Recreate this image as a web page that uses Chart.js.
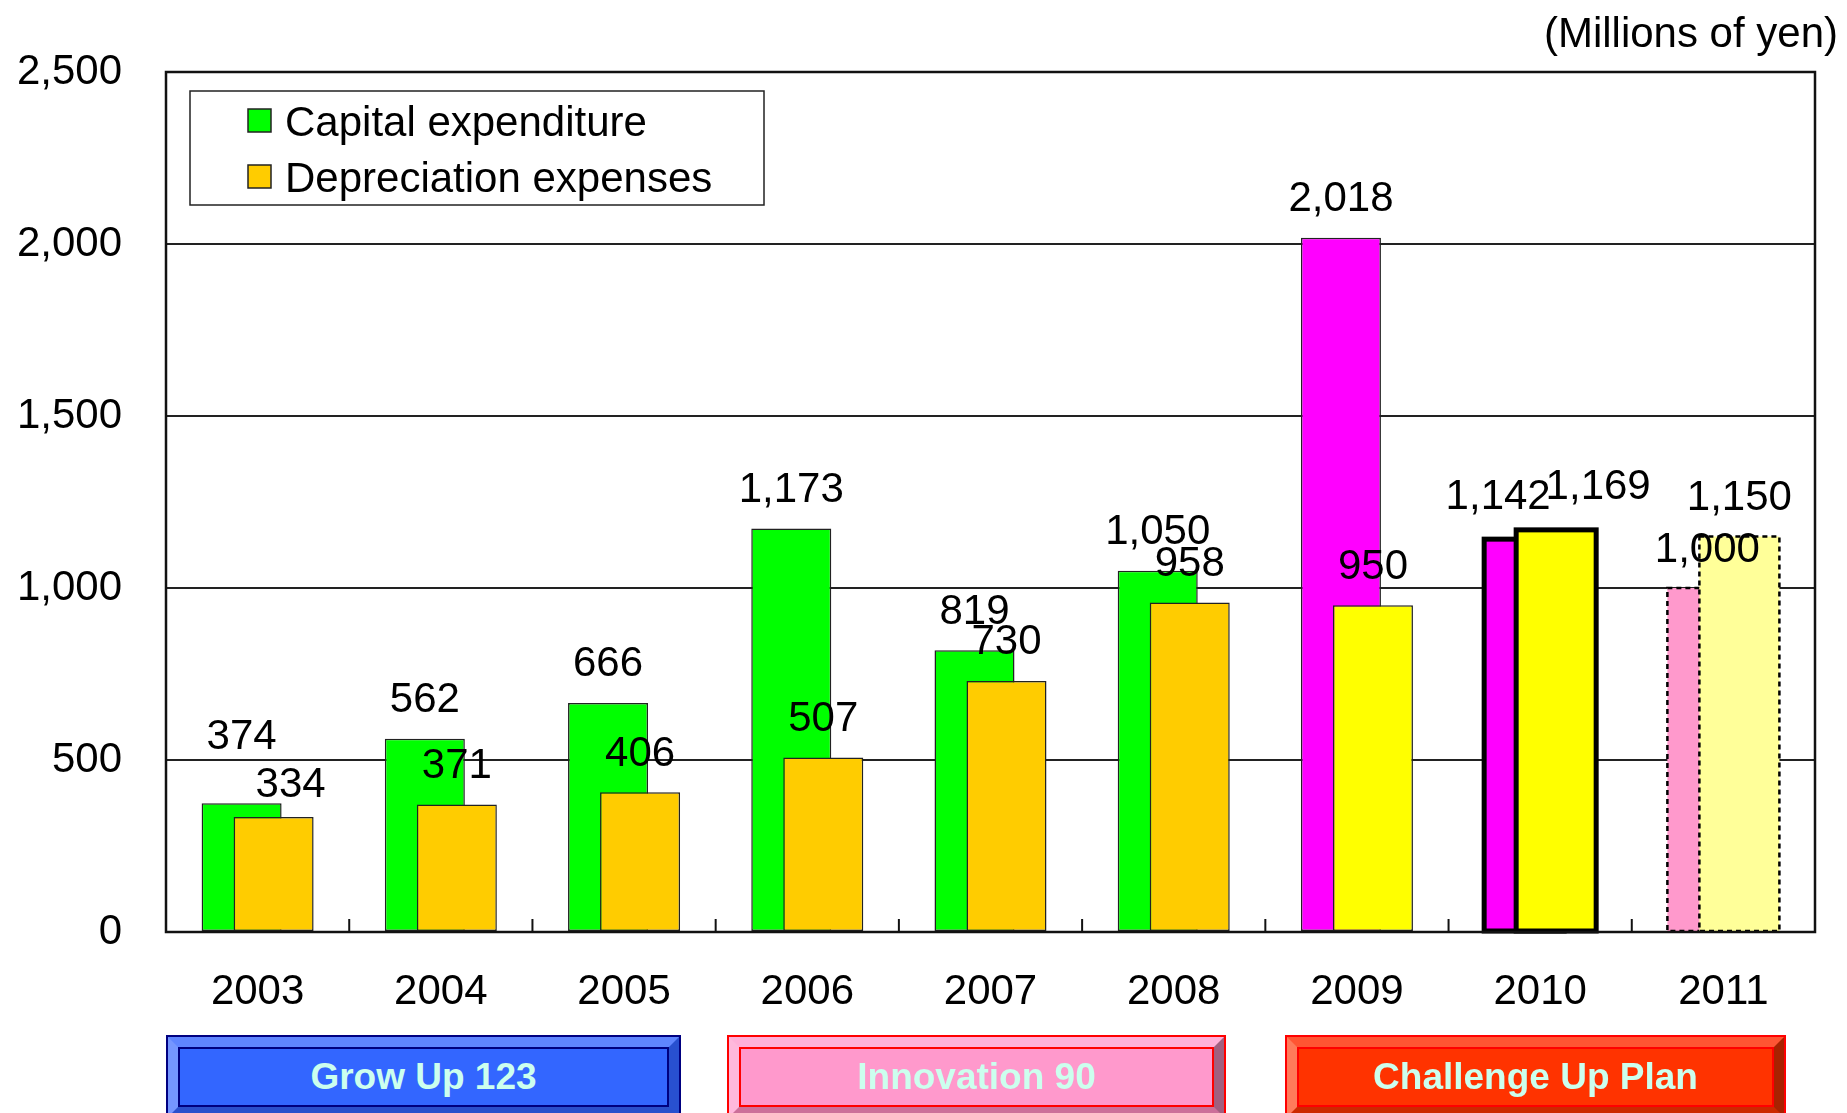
<!DOCTYPE html>
<html>
<head>
<meta charset="utf-8">
<script src="https://cdn.jsdelivr.net/npm/chart.js@4.4.0/dist/chart.umd.min.js"></script>
<style>
  html, body { margin: 0; padding: 0; background: #fff; overflow: hidden; }
  #wrap { position: relative; width: 1847px; height: 1113px; }
  .plan { position: absolute; top: 1035px; height: 84px; box-sizing: border-box; border: 2px solid; }
  .plan .bevel { box-sizing: border-box; height: 100%; border-style: solid; border-width: 10px; }
  .plan .face {
    box-sizing: border-box; height: 100%; border: 2px solid;
    display: flex; align-items: center; justify-content: center;
    font: bold 37px "Liberation Sans", Arial, sans-serif; color: #ccffee;
  }
</style>
</head>
<body>
<div id="wrap">
  <canvas id="myChart" width="1847" height="1113"></canvas>

  <div class="plan" style="left:166px;width:515px;border-color:#000080">
    <div class="bevel" style="border-color:#5f85ff #2850d0 #2a4fcc #7596ff">
      <div class="face" style="border-color:#000080;background:#3366ff">Grow Up 123</div>
    </div>
  </div>
  <div class="plan" style="left:727px;width:499px;border-color:#ff0000">
    <div class="bevel" style="border-color:#ffb0d8 #a0607f #cc7099 #ffb8dc">
      <div class="face" style="border-color:#ff0000;background:#ff99cc">Innovation 90</div>
    </div>
  </div>
  <div class="plan" style="left:1285px;width:501px;border-color:#ff0000">
    <div class="bevel" style="border-color:#ff5533 #a82200 #cc2900 #ff7a5a">
      <div class="face" style="border-color:#ff0000;background:#ff3300">Challenge Up Plan</div>
    </div>
  </div>
</div>

<script>
const years = ["2003", "2004", "2005", "2006", "2007", "2008", "2009", "2010", "2011"];
const capitalExpenditure = [374, 562, 666, 1173, 819, 1050, 2018, 1142, 1000];
const depreciationExpenses = [334, 371, 406, 507, 730, 958, 950, 1169, 1150];
const yTicks = [0, 500, 1000, 1500, 2000, 2500];
const unitLabel = "(Millions of yen)";

const FONT = '"Liberation Sans", Arial, sans-serif';

// hand-moved labels in the original, [dx, dy] per dataset
const labelNudge = {
  "2003": [[0, -28], [17, 6]],
  "2010": [[-26, -4], [42, -4]]
};

// 2003-2008 results, 2009 latest, 2010 estimate (thick border), 2011 plan (dashed)
const stage = (i) => (i < 6 ? "past" : i === 6 ? "latest" : i === 7 ? "estimate" : "plan");
const capFill = years.map((y, i) => ({ past: "#00ff00", latest: "#ff00ff", estimate: "#ff00ff", plan: "#ff99cc" })[stage(i)]);
const depFill = years.map((y, i) => ({ past: "#ffcc00", latest: "#ffff00", estimate: "#ffff00", plan: "#ffff99" })[stage(i)]);
const borderW = years.map((y, i) => (stage(i) === "past" || stage(i) === "latest" ? 1.5 : 0));

function fmt(v) {
  return v.toLocaleString("en-US");
}

// draw green first, orange on top; outline estimate / plan bars on their edges
const drawOrder = {
  id: "drawOrder",
  beforeDatasetsDraw(chart) {
    const ctx = chart.ctx;
    chart.getSortedVisibleDatasetMetas().forEach((meta) => {
      meta.controller.draw();
      meta.data.forEach((bar, i) => {
        const s = stage(i);
        if (s !== "plan" && s !== "estimate") return;
        const p = bar.getProps(["x", "y", "base", "width"], true);
        ctx.save();
        ctx.strokeStyle = "#000";
        if (s === "plan") {
          ctx.lineWidth = 2.5;
          ctx.setLineDash([5, 4]);
        } else {
          ctx.lineWidth = 5;
        }
        ctx.strokeRect(p.x - p.width / 2, p.y, p.width, p.base - p.y);
        ctx.restore();
      });
    });
    return false;
  }
};

const decorations = {
  id: "decorations",
  afterDraw(chart) {
    const ctx = chart.ctx;
    const a = chart.chartArea;
    const x = chart.scales.x;

    ctx.save();
    // plot frame
    ctx.strokeStyle = "#111";
    ctx.lineWidth = 2.5;
    ctx.strokeRect(a.left, a.top, a.right - a.left, a.bottom - a.top);

    // small inner tick marks between years
    ctx.lineWidth = 2;
    for (let i = 0; i < years.length - 1; i++) {
      const px = (x.getPixelForValue(i) + x.getPixelForValue(i + 1)) / 2;
      ctx.beginPath();
      ctx.moveTo(px, a.bottom);
      ctx.lineTo(px, a.bottom - 13);
      ctx.stroke();
    }

    // value labels
    ctx.fillStyle = "#000";
    ctx.font = "42px " + FONT;
    ctx.textAlign = "center";
    ctx.textBaseline = "middle";
    chart.data.datasets.forEach((ds, d) => {
      chart.getDatasetMeta(d).data.forEach((bar, i) => {
        const n = labelNudge[years[i]] ? labelNudge[years[i]][d] : [0, 0];
        ctx.fillText(fmt(ds.data[i]), bar.x + n[0], bar.y - 38 + n[1]);
      });
    });

    // unit label
    ctx.textAlign = "right";
    ctx.fillText(unitLabel, 1838, 35);

    // legend box
    ctx.fillStyle = "#fff";
    ctx.fillRect(190, 91, 574, 114);
    ctx.strokeStyle = "#222";
    ctx.lineWidth = 1.5;
    ctx.strokeRect(190, 91, 574, 114);
    ctx.textAlign = "left";
    chart.data.datasets.forEach((ds, d) => {
      const cy = 120 + d * 56;
      ctx.fillStyle = ds.legendColor;
      ctx.fillRect(248, cy - 11, 23, 23);
      ctx.strokeStyle = "#222";
      ctx.strokeRect(248, cy - 11, 23, 23);
      ctx.fillStyle = "#000";
      ctx.fillText(ds.label, 285, cy + 4);
    });
    ctx.restore();
  }
};

new Chart(document.getElementById("myChart").getContext("2d"), {
  type: "bar",
  data: {
    labels: years,
    datasets: [
      {
        label: "Capital expenditure",
        data: capitalExpenditure,
        backgroundColor: capFill,
        legendColor: "#00ff00",
        borderColor: "#222",
        borderWidth: borderW,
        borderSkipped: false
      },
      {
        label: "Depreciation expenses",
        data: depreciationExpenses,
        backgroundColor: depFill,
        legendColor: "#ffcc00",
        borderColor: "#222",
        borderWidth: borderW,
        borderSkipped: false
      }
    ]
  },
  options: {
    responsive: false,
    animation: false,
    devicePixelRatio: 1,
    layout: { padding: { top: 72, right: 32, left: 0, bottom: 0 } },
    datasets: { bar: { categoryPercentage: 64 / 183.2, barPercentage: 2.5 } },
    plugins: { legend: { display: false }, tooltip: { enabled: false } },
    scales: {
      x: {
        grid: { display: false },
        border: { display: false },
        ticks: { color: "#000", font: { family: FONT, size: 42 }, padding: 27, maxRotation: 0 },
        afterFit: (s) => { s.height = 181; }
      },
      y: {
        min: yTicks[0],
        max: yTicks[yTicks.length - 1],
        afterBuildTicks: (s) => { s.ticks = yTicks.map((v) => ({ value: v })); },
        ticks: { color: "#000", font: { family: FONT, size: 42 }, padding: 44, callback: (v) => fmt(v) },
        grid: { color: "#222", lineWidth: 2, drawTicks: false },
        border: { display: false },
        afterFit: (s) => { s.width = 166; }
      }
    }
  },
  plugins: [drawOrder, decorations]
});
</script>
</body>
</html>
